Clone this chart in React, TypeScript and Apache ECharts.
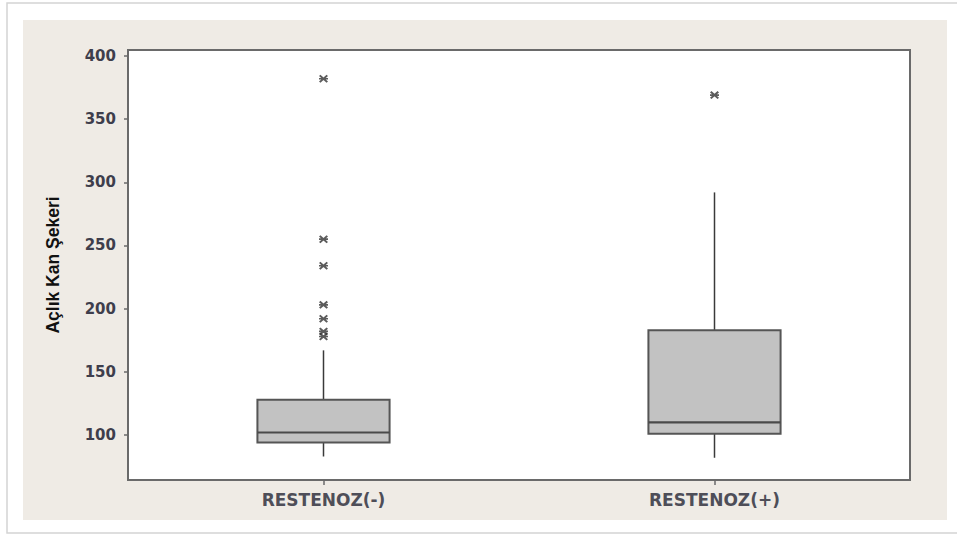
import React, { useEffect, useRef } from "react";
import * as echarts from "echarts";

// Groups on the x axis
const categories = ["RESTENOZ(-)", "RESTENOZ(+)"];

// Five-number summaries per group: [lower whisker, Q1, median, Q3, upper whisker]
const restenozNeg = [83, 94, 102, 128, 167];
const restenozPos = [82, 101, 110, 183, 292];

// Outlying observations per group
const outliersNeg = [382, 255, 234, 203, 192, 182, 178];
const outliersPos = [369];

// Y-axis tick values
const yTicks = [100, 150, 200, 250, 300, 350, 400];

const ASTERISK =
  "path://M0,1.6L1.6,0L10,8.4L8.4,10Z M8.4,0L10,1.6L1.6,10L0,8.4Z M0,4H10V6H0Z";

export default function App() {
  const ref = useRef<HTMLDivElement>(null);

  useEffect(() => {
    if (!ref.current) return;
    const chart = echarts.init(ref.current, null, { renderer: "svg" });

    const boxData = [restenozNeg, restenozPos].map((s, i) => [i, ...s]);
    const outlierData = [
      ...outliersNeg.map((v) => [0, v]),
      ...outliersPos.map((v) => [1, v]),
    ];

    chart.setOption({
      animation: false,
      backgroundColor: "#ffffff",
      graphic: [
        {
          type: "rect",
          z: -10,
          shape: { x: 7, y: 3, width: 970, height: 530 },
          style: { fill: "#ffffff", stroke: "#d4d4d4", lineWidth: 1.5 },
          silent: true,
        },
        {
          type: "rect",
          z: -9,
          shape: { x: 23, y: 20, width: 924, height: 500 },
          style: { fill: "#efebe5" },
          silent: true,
        },
      ],
      grid: {
        left: 128,
        right: 47,
        top: 50,
        bottom: 55,
        show: true,
        backgroundColor: "#ffffff",
        borderColor: "#6a6a6a",
        borderWidth: 2,
      },
      xAxis: {
        type: "category",
        data: categories,
        boundaryGap: true,
        axisLine: { show: false },
        axisTick: {
          show: true,
          alignWithLabel: true,
          length: 5,
          lineStyle: { color: "#6a6a6a", width: 1.5 },
        },
        axisLabel: {
          margin: 11,
          color: "#4e4e58",
          fontFamily: "DejaVu Sans",
          fontWeight: "bold",
          fontSize: 17,
        },
        splitLine: { show: false },
      },
      yAxis: {
        type: "value",
        min: 64.4,
        max: 404.7,
        name: "Açlık Kan Şekeri",
        nameLocation: "middle",
        nameRotate: 90,
        nameGap: 66,
        nameTextStyle: {
          color: "#111111",
          fontFamily: "Liberation Sans",
          fontWeight: "bold",
          fontSize: 17.5,
        },
        axisLine: { show: false },
        axisTick: {
          show: true,
          length: 4,
          customValues: yTicks,
          lineStyle: { color: "#6a6a6a", width: 1.5 },
        },
        axisLabel: {
          margin: 12,
          customValues: yTicks,
          color: "#3e3e4c",
          fontFamily: "DejaVu Sans",
          fontWeight: "bold",
          fontSize: 15,
        },
        splitLine: { show: false },
      },
      series: [
        {
          type: "custom",
          data: boxData,
          renderItem: (params: any, api: any) => {
            const idx = api.value(0);
            const lo = api.coord([idx, api.value(1)]);
            const q1 = api.coord([idx, api.value(2)]);
            const md = api.coord([idx, api.value(3)]);
            const q3 = api.coord([idx, api.value(4)]);
            const hi = api.coord([idx, api.value(5)]);
            const band = api.size([1, 0])[0];
            const w = band * 0.338;
            const cx = lo[0];
            const x0 = cx - w / 2;
            const lineStyle = { stroke: "#3a3a3a", lineWidth: 1.5 };
            return {
              type: "group",
              children: [
                {
                  type: "line",
                  shape: { x1: cx, y1: lo[1], x2: cx, y2: q1[1] },
                  style: lineStyle,
                },
                {
                  type: "line",
                  shape: { x1: cx, y1: q3[1], x2: cx, y2: hi[1] },
                  style: lineStyle,
                },
                {
                  type: "rect",
                  shape: { x: x0, y: q3[1], width: w, height: q1[1] - q3[1] },
                  style: { fill: "#c2c2c2", stroke: "#555555", lineWidth: 2 },
                },
                {
                  type: "line",
                  shape: { x1: x0, y1: md[1], x2: x0 + w, y2: md[1] },
                  style: { stroke: "#4a4a4a", lineWidth: 2.2 },
                },
              ],
            };
          },
        },
        {
          type: "scatter",
          data: outlierData,
          symbol: ASTERISK,
          symbolSize: [9, 8],
          itemStyle: { color: "#333333" },
        },
      ],
    });

    return () => chart.dispose();
  }, []);

  return (
    <div
      ref={ref}
      style={{ position: "fixed", left: 0, top: 0, width: 957, height: 535 }}
    />
  );
}
